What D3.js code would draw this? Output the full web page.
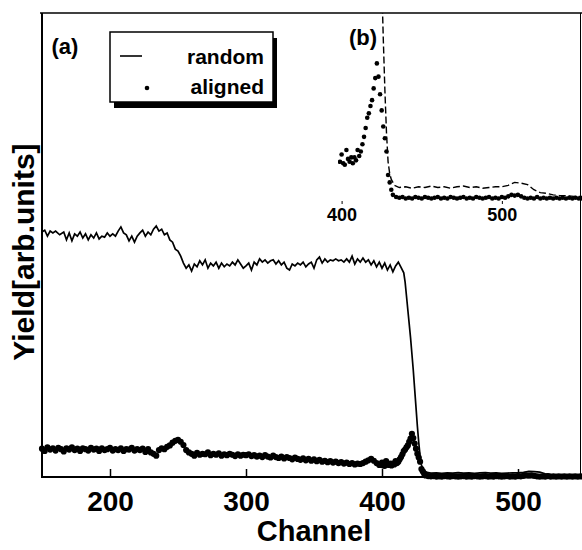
<!DOCTYPE html>
<html lang="en">
<head>
    <meta charset="UTF-8">
    <title>RBS spectra: random and aligned</title>
    <script src="https://d3js.org/d3.v7.min.js"></script>
    <style>
        body { margin: 0; background: #fff; font-family: "Liberation Sans", Arial, sans-serif; }
        text { font-weight: bold; fill: #000; }
    </style>
</head>
<body>
<div id="chart"></div>
<script>
    // random spectrum, [channel, yield (arb. units)]
    const randomPts = [
        [150,52.8],[152,53.2],[154,51.9],[156,53.0],[158,52.6],[160,53.0],[163,52.2],[166,52.8],
        [168,51.1],[170,52.6],[172,50.9],[174,52.4],[176,51.9],[178,52.8],[180,51.5],[182,52.4],
        [184,51.1],[186,52.2],[188,51.5],[190,52.6],[192,51.3],[194,51.9],[196,51.7],[198,52.6],
        [200,51.9],[202,52.4],[204,51.9],[206,53.0],[208,53.9],[210,52.6],[212,52.2],[214,50.9],
        [216,51.9],[218,50.6],[220,51.9],[222,52.6],[224,53.2],[226,51.9],[228,52.8],[230,52.2],
        [232,53.4],[234,54.1],[236,53.0],[238,53.4],[240,52.2],[242,52.6],[244,51.1],[246,50.6],
        [248,49.1],[250,48.7],[252,47.6],[254,46.1],[256,45.0],[258,45.7],[260,44.4],[262,45.9],
        [264,45.3],[266,46.6],[268,45.7],[270,46.8],[272,45.0],[274,46.1],[276,45.5],[278,46.3],
        [280,45.0],[282,46.1],[284,45.3],[286,45.9],[288,45.5],[290,46.3],[292,45.7],[294,46.8],
        [296,45.9],[298,45.0],[300,45.5],[302,46.1],[304,44.6],[306,46.3],[308,45.7],[310,47.0],
        [312,46.3],[314,46.8],[316,46.1],[318,46.6],[320,46.8],[322,45.9],[324,46.6],[326,45.7],
        [328,46.3],[330,45.0],[332,44.6],[334,45.9],[336,45.5],[338,46.1],[340,45.7],[342,46.3],
        [344,45.3],[346,45.9],[348,46.3],[350,45.0],[352,46.8],[354,47.4],[356,46.1],[358,47.0],
        [360,46.3],[362,46.8],[364,46.6],[366,47.0],[368,46.6],[370,46.8],[372,46.3],[374,47.0],
        [376,46.3],[378,47.6],[380,45.9],[382,47.0],[384,46.3],[386,47.2],[388,46.3],[390,46.8],
        [392,45.7],[394,46.6],[396,45.3],[398,46.3],[400,45.0],[402,46.1],[404,44.6],[406,45.7],
        [408,44.2],[410,45.5],[412,46.3],[414,45.2],[416,44.0],[417,42.0],[418,39.0],[419,36.0],
        [420,33.0],[421,30.0],[422,26.5],[423,23.0],[424,19.0],[425,15.0],[426,11.0],[427,7.5],
        [428,4.6],[429,2.6],[430,1.8],[431,1.4],[433,1.0],
        [436,0.85],[440,0.9],[444,0.8],[448,0.9],[452,0.85],[456,0.95],[460,0.85],[464,0.9],
        [468,0.8],[472,0.9],[476,0.95],[480,0.85],[484,0.9],[488,0.8],[492,0.85],[496,0.9],
        [500,0.9],[504,1.0],[508,1.2],[512,1.15],[516,1.05],[520,0.7],[524,0.5],[528,0.45],
        [532,0.35],[536,0.3],[540,0.3],[545,0.25],[550,0.25]
    ];

    // aligned spectrum, [channel, yield (arb. units)]
    const alignedPts = [
        [150,6.1],[152,5.6],[154,6.4],[156,5.9],[158,6.2],[160,5.7],[162,6.3],[164,6.0],
        [166,5.5],[168,6.2],[170,5.9],[172,6.4],[174,5.8],[176,6.1],[178,5.6],[180,6.2],
        [182,6.0],[184,5.7],[186,6.3],[188,5.9],[190,6.1],[192,5.6],[194,6.2],[196,5.8],
        [198,6.0],[200,6.3],[202,5.7],[204,6.0],[206,5.8],[208,6.2],[210,5.6],[212,6.0],
        [214,5.9],[216,6.3],[218,5.7],[220,6.0],[222,5.8],[224,6.1],[226,5.4],[228,6.0],
        [230,5.3],[232,5.0],[234,4.6],[236,5.8],[238,6.2],[240,6.0],[242,6.5],[244,6.8],
        [246,7.4],[248,7.8],[250,8.0],[252,7.6],[254,6.9],[256,5.8],[258,5.3],[260,5.0],
        [262,4.6],[264,5.2],[266,4.8],[268,5.0],[270,4.9],[272,5.3],[274,4.7],[276,5.0],
        [278,4.8],[280,5.1],[282,4.6],[284,4.9],[286,4.7],[288,5.0],[290,4.8],[292,4.5],
        [294,4.9],[296,4.6],[298,4.8],[300,4.7],[302,4.9],[304,4.5],[306,4.7],[308,4.4],
        [310,4.6],[312,4.3],[314,4.7],[316,4.4],[318,4.2],[320,4.6],[322,4.3],[324,4.1],
        [326,4.4],[328,4.0],[330,4.3],[332,4.1],[334,3.8],[336,4.2],[338,3.9],[340,3.7],
        [342,4.0],[344,3.6],[346,3.9],[348,3.5],[350,3.8],[352,3.4],[354,3.7],[356,3.3],
        [358,3.5],[360,3.2],[362,3.4],[364,3.1],[366,3.3],[368,3.0],[370,3.2],[372,2.9],
        [374,3.1],[376,2.8],[378,3.0],[380,2.7],[382,2.9],[384,2.8],[386,3.0],[388,3.3],
        [390,3.6],[392,3.9],[394,3.5],[396,3.0],[398,2.6],[399,2.6],[400,3.1],[401,2.5],
        [402,2.4],[403,3.4],[404,2.8],[405,2.6],[406,2.9],[407,2.5],[408,2.9],[409,2.7],
        [410,3.4],[411,3.0],[412,3.3],[413,3.8],[414,4.3],[415,4.9],[416,5.6],[417,5.9],
        [418,6.4],[419,6.8],[420,7.6],[421,8.3],[422,9.3],[423,8.4],[424,7.2],[425,6.1],
        [426,5.0],[427,4.2],[428,3.3],[429,1.7],[430,1.2],[431,0.7],[432,0.35],[434,0.2],
        [436,0.15],[438,0.2],[440,0.1],[442,0.15],[444,0.1],[446,0.2],[448,0.15],[450,0.1],
        [452,0.2],[454,0.15],[456,0.1],[458,0.15],[460,0.2],[462,0.1],[464,0.15],[466,0.1],
        [468,0.2],[470,0.15],[472,0.1],[474,0.15],[476,0.2],[478,0.1],[480,0.15],[482,0.1],
        [484,0.2],[486,0.15],[488,0.1],[490,0.15],[492,0.2],[494,0.1],[496,0.15],[498,0.1],
        [500,0.2],[502,0.15],[504,0.25],[506,0.35],[508,0.3],[510,0.35],[512,0.25],[514,0.15],
        [516,0.1],[518,0.15],[520,0.1],[522,0.2],[524,0.1],[526,0.15],[528,0.1],[530,0.15],
        [532,0.1],[534,0.15],[536,0.1],[538,0.15],[540,0.1],[542,0.15],[544,0.1],[546,0.15],
        [548,0.1],[550,0.1]
    ];

    const mainTicks = [200, 300, 400, 500];
    const insetTicks = [400, 500];
    const seriesNames = ["random", "aligned"];

    const W = 582, H = 550;
    const svg = d3.select("#chart").append("svg")
        .attr("width", W).attr("height", H);

    // main panel scales
    const x = d3.scaleLinear().domain([150, 550]).range([42, 586]);
    const y = d3.scaleLinear().domain([0, 100]).range([477, 13]);

    // inset (b) scales - zoom on the surface peak
    const xi = d3.scaleLinear().domain([399, 550]).range([340, 582]);
    const yi = d3.scaleLinear().domain([0, 12.8]).range([200, 12]);

    // frame
    svg.append("line").attr("x1", 40).attr("x2", W).attr("y1", 13).attr("y2", 13)
        .attr("stroke", "#000").attr("stroke-width", 1.6);
    svg.append("line").attr("x1", 42).attr("x2", 42).attr("y1", 13).attr("y2", 478)
        .attr("stroke", "#000").attr("stroke-width", 2);
    svg.append("line").attr("x1", 41).attr("x2", W).attr("y1", 477).attr("y2", 477)
        .attr("stroke", "#000").attr("stroke-width", 2);
    svg.append("line").attr("x1", 580.5).attr("x2", 580.5).attr("y1", 13).attr("y2", 477)
        .attr("stroke", "#000").attr("stroke-width", 1);

    // bottom axis
    const xAxis = d3.axisBottom(x).tickValues(mainTicks).tickSize(-8).tickPadding(14)
        .tickFormat(d3.format("d"));
    const gx = svg.append("g").attr("transform", "translate(0,477)").call(xAxis);
    gx.select(".domain").remove();
    gx.selectAll("line").attr("stroke", "#000").attr("stroke-width", 1.5);
    gx.selectAll("text").attr("font-size", 28).attr("font-family", "Liberation Sans, Arial, sans-serif")
        .attr("font-weight", "bold").attr("fill", "#000");

    svg.append("text").attr("x", x(350)).attr("y", 541).attr("text-anchor", "middle")
        .attr("font-size", 29).text("Channel");
    svg.append("text").attr("transform", "translate(34,252) rotate(-90)")
        .attr("text-anchor", "middle").attr("font-size", 30).text("Yield[arb.units]");

    // main random line
    const line = d3.line().x(d => x(d[0])).y(d => y(d[1]));
    svg.append("path").datum(randomPts).attr("d", line)
        .attr("fill", "none").attr("stroke", "#000").attr("stroke-width", 1.7);

    // main aligned dots
    svg.append("g").selectAll("circle").data(alignedPts).join("circle")
        .attr("cx", d => x(d[0])).attr("cy", d => y(d[1])).attr("r", 3.1).attr("fill", "#000");

    // inset (b)
    svg.append("clipPath").attr("id", "insetClip").append("rect")
        .attr("x", 338).attr("y", 13).attr("width", 250).attr("height", 192);
    const inset = svg.append("g").attr("clip-path", "url(#insetClip)");
    const lineI = d3.line().x(d => xi(d[0])).y(d => yi(d[1]));
    inset.append("path").datum(randomPts).attr("d", lineI)
        .attr("fill", "none").attr("stroke", "#000").attr("stroke-width", 1.4)
        .attr("stroke-dasharray", "7,3");
    inset.selectAll("circle").data(alignedPts.filter(d => d[0] >= 399)).join("circle")
        .attr("cx", d => xi(d[0])).attr("cy", d => yi(d[1])).attr("r", 2.3).attr("fill", "#000");

    const gi = svg.append("g").attr("transform", "translate(0,201)")
        .call(d3.axisBottom(xi).tickValues(insetTicks).tickSize(3).tickPadding(4).tickFormat(d3.format("d")));
    gi.select(".domain").remove();
    gi.selectAll("line").attr("stroke", "#000");
    gi.selectAll("text").attr("font-size", 18).attr("font-family", "Liberation Sans, Arial, sans-serif")
        .attr("font-weight", "bold").attr("fill", "#000");

    svg.append("text").attr("x", 363).attr("y", 45).attr("text-anchor", "middle")
        .attr("font-size", 22).text("(b)");
    svg.append("text").attr("x", 65).attr("y", 54).attr("text-anchor", "middle")
        .attr("font-size", 22).text("(a)");

    // legend with drop shadow
    const lg = svg.append("g");
    lg.append("rect").attr("x", 114).attr("y", 38).attr("width", 163).attr("height", 70).attr("fill", "#000");
    lg.append("rect").attr("x", 110).attr("y", 32).attr("width", 163).attr("height", 70)
        .attr("fill", "#fff").attr("stroke", "#000").attr("stroke-width", 1.5);
    lg.append("line").attr("x1", 120).attr("x2", 142).attr("y1", 56).attr("y2", 56)
        .attr("stroke", "#000").attr("stroke-width", 1.6);
    lg.append("circle").attr("cx", 147).attr("cy", 88).attr("r", 2.3).attr("fill", "#000");
    lg.selectAll("text.lab").data(seriesNames).join("text").attr("class", "lab")
        .attr("x", 264).attr("text-anchor", "end").attr("y", (d, i) => 64 + i * 30)
        .attr("font-size", 21).text(d => d);
</script>
</body>
</html>
